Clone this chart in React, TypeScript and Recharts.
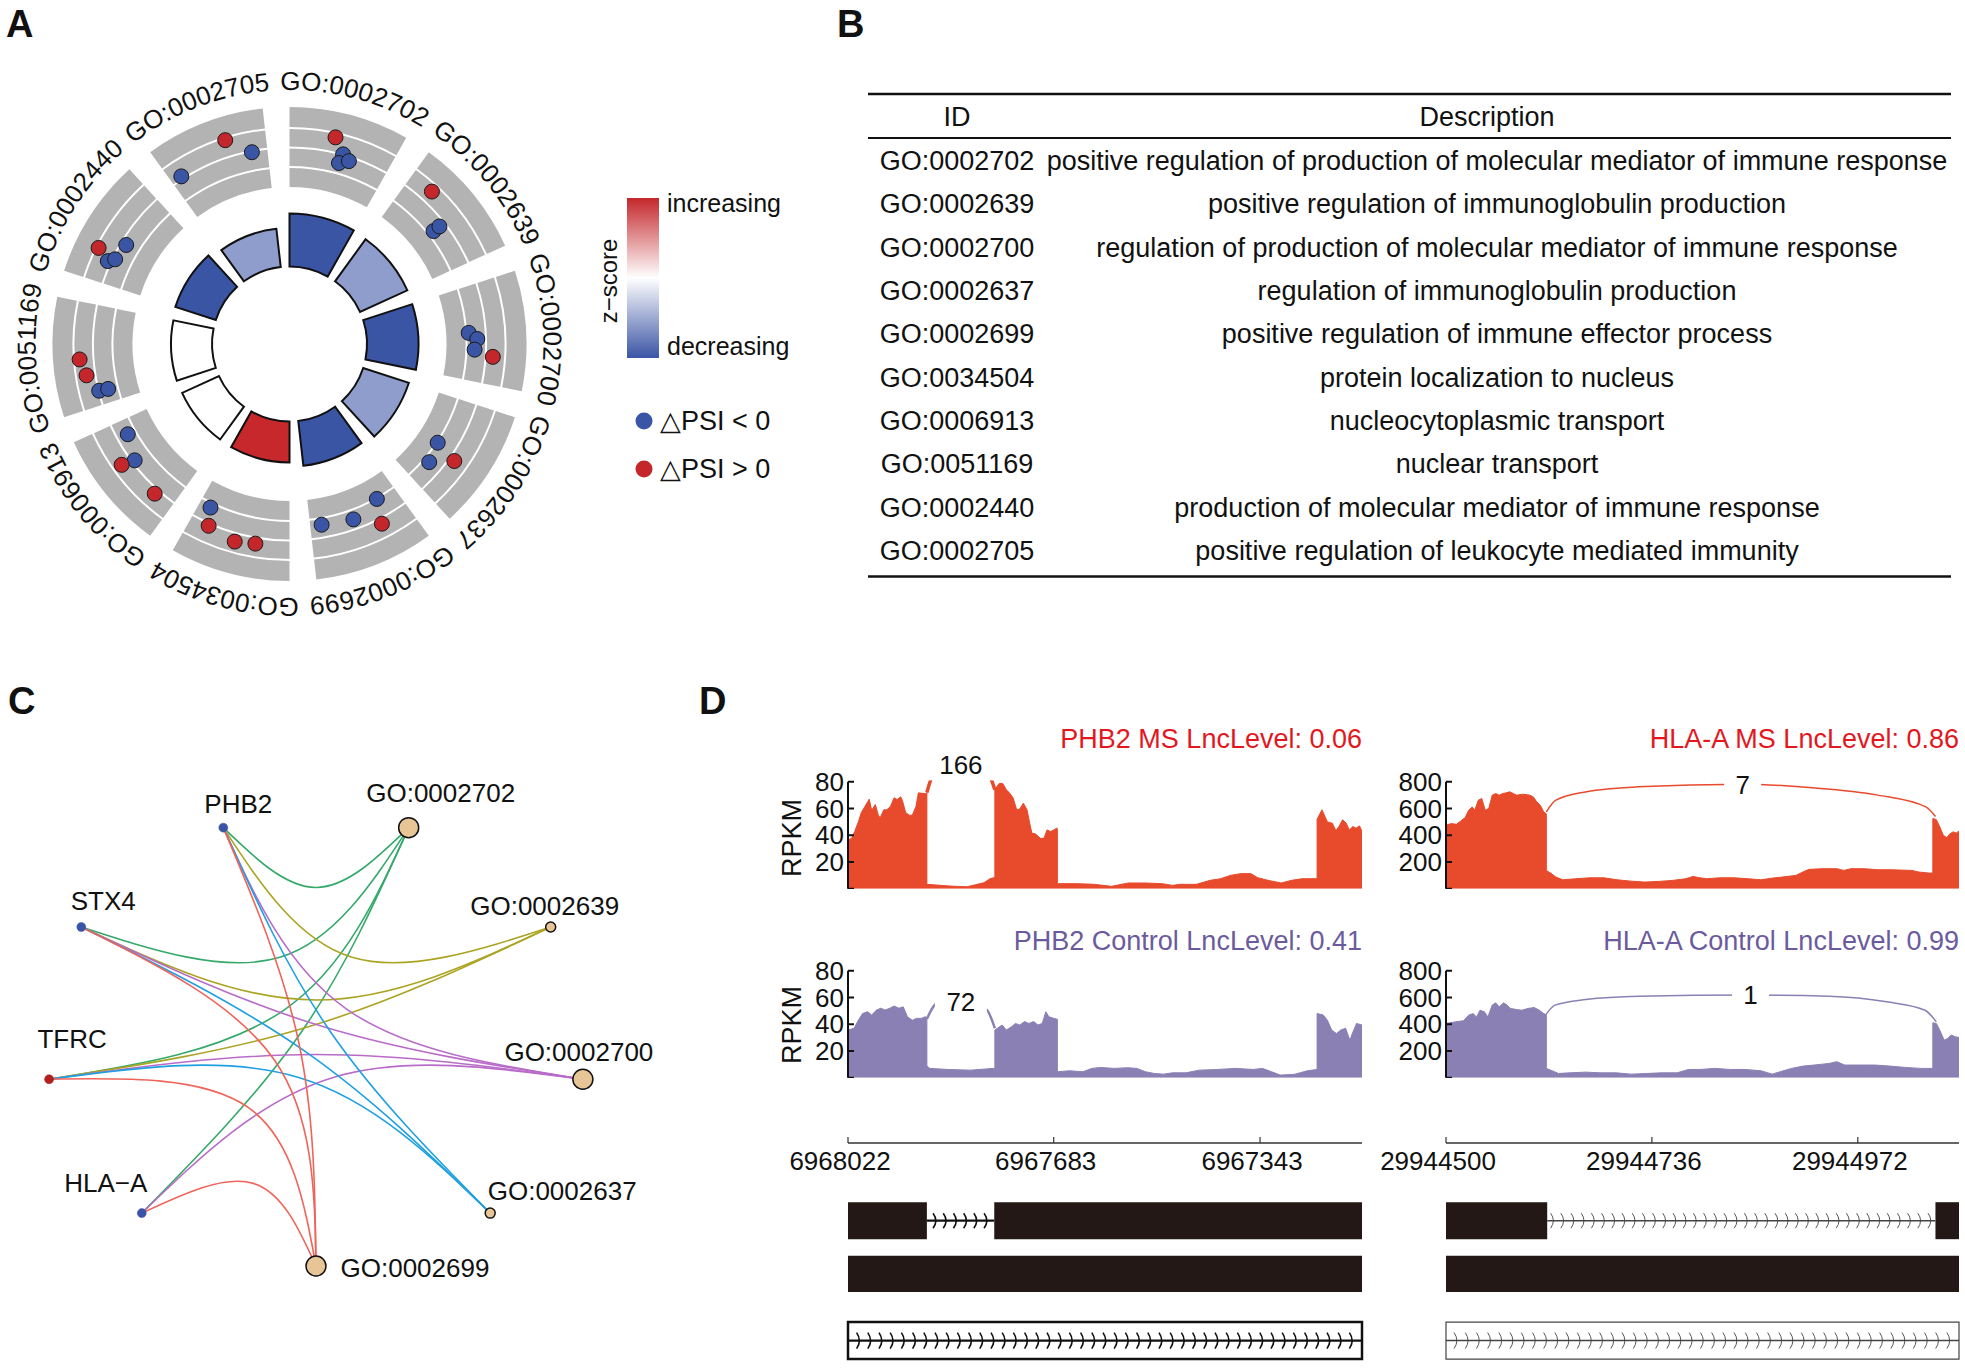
import React from 'react'
import { PieChart, Pie, Cell, ScatterChart, Scatter, XAxis, YAxis, ComposedChart, Line, Area, ReferenceLine, ReferenceArea, LabelList } from 'recharts'

const FONT = '"Liberation Sans", Arial, Helvetica, sans-serif'

// GO terms (panels A and B)
const goIds = ['GO:0002702', 'GO:0002639', 'GO:0002700', 'GO:0002637', 'GO:0002699', 'GO:0034504', 'GO:0006913', 'GO:0051169', 'GO:0002440', 'GO:0002705']
const goDesc = [
  'positive regulation of production of molecular mediator of immune response',
  'positive regulation of immunoglobulin production',
  'regulation of production of molecular mediator of immune response',
  'regulation of immunoglobulin production',
  'positive regulation of immune effector process',
  'protein localization to nucleus',
  'nucleocytoplasmic transport',
  'nuclear transport',
  'production of molecular mediator of immune response',
  'positive regulation of leukocyte mediated immunity',
]
const goZScore = [-1, -0.577, -1, -0.577, -1, 1, 0, 0, -1, -0.577]
const goNegLogP = [5.3, 5.2, 5.15, 4.8, 4.5, 4.1, 4.05, 4.1, 4.25, 3.85]

// genes on the outer ring: [term index, angle inside the term sector (deg), dPSI]
const ringGenes = [
  [0, 14.2, 0.11], [0, 17.6, -0.033], [0, 17.2, -0.128], [0, 19.9, -0.078],
  [1, 9, 0.115], [1, 18.1, -0.13], [1, 18, -0.055],
  [2, 16.1, -0.127], [2, 18, -0.042], [2, 21.2, -0.066], [2, 22.9, 0.121],
  [3, 16.1, -0.12], [3, 22.4, -0.07], [3, 17.7, 0.121],
  [4, 6, -0.123], [4, 15.1, -0.039], [4, 8.2, 0.118], [4, 24.7, -0.076],
  [5, 23.7, -0.129], [5, 22.1, 0.046], [5, 13.8, 0.116], [5, 8.1, 0.097],
  [6, 22.7, -0.136], [6, 15, -0.042], [6, 16.3, 0.088], [6, 4, 0.049],
  [7, 12.3, 0.089], [7, 7.6, 0.043], [7, 2.4, -0.046], [7, 2.2, -0.137],
  [8, 8.1, 0.1], [8, 12.7, -0.129], [8, 5.8, -0.039], [8, 7.2, -0.098],
  [9, 19.4, 0.105], [9, 26.1, -0.074], [9, 3.6, -0.044],
]

// network (panel C)
const netGenes = ['PHB2', 'STX4', 'TFRC', 'HLA-A']
const netGeneSign = [-1, -1, 1, -1]
const netTerms = ['GO:0002702', 'GO:0002639', 'GO:0002700', 'GO:0002637', 'GO:0002699']
const netTermGenes = [
  ['PHB2', 'STX4', 'TFRC', 'HLA-A'],
  ['PHB2', 'STX4', 'TFRC'],
  ['PHB2', 'STX4', 'TFRC', 'HLA-A'],
  ['PHB2', 'STX4', 'TFRC'],
  ['PHB2', 'STX4', 'TFRC', 'HLA-A'],
]
const netOrder = ['GO:0002699', 'HLA-A', 'TFRC', 'STX4', 'PHB2', 'GO:0002702', 'GO:0002639', 'GO:0002700', 'GO:0002637']

// sashimi coverage, [offset from left end (bp), RPKM]
const phb2Ms = [[0,36.5],[6,37.7],[11,42.8],[17,50],[22,57],[28,61.6],[35,67],[39,58.6],[45,63],[50,55],[53,53],[59,59],[64,59],[70,61.6],[76,68],[81,66.7],[87,68.7],[90,65.4],[95,57],[101,55],[106,55],[112,61.6],[116,71.7],[120,71.5],[128,71],[130,72],[130,3.3],[140,3],[168,2],[196,1.5],[210,3],[224,4.5],[234,7.5],[242,8.5],[242,74.2],[249,78.7],[255,78.7],[261,74],[266,71.7],[272,68],[278,59],[283,59.6],[289,64],[295,59],[300,47.8],[303,41.5],[309,41],[317,37.7],[323,37.7],[328,44],[334,42.8],[339,44],[344,45.3],[345,45],[345,3.8],[378,3.8],[406,3.3],[434,1.8],[462,4.3],[490,4.3],[518,3.8],[535,2.5],[546,3.3],[574,3.3],[597,6.3],[614,7.5],[630,10],[647,11.3],[664,11.3],[675,8.3],[692,6.3],[714,4.3],[731,6.3],[748,7.5],[773,7.5],[773,52],[781,59],[790,50],[798,49],[804,43.5],[809,46.5],[815,51.6],[821,49],[826,44],[832,46.5],[837,45.3],[843,47],[847,42.8]]
const phb2Ctl = [[0,35.7],[10,37],[17,43],[24,48],[32,49.4],[39,47],[47,50.6],[54,52],[61,50.6],[69,52],[76,53.6],[84,52],[91,53],[98,45.6],[106,43],[113,44.4],[121,44.4],[127,45.6],[130,45],[130,8.7],[135,7],[165,6.2],[202,5.7],[239,7],[242,7],[242,35.7],[254,39.4],[261,35.7],[269,38],[276,40.6],[283,39.4],[291,42],[298,40.6],[306,42],[313,39.4],[320,40.6],[326,49.4],[331,45.6],[339,44.4],[345,43.7],[345,4.5],[365,5.2],[387,4.5],[402,7],[416,7.7],[439,7],[461,7.5],[476,7],[490,4.5],[505,3.2],[520,2.7],[535,3.7],[557,3.7],[579,5.7],[609,6.2],[638,7],[668,6.2],[683,7],[698,4.5],[712,2],[735,2.5],[757,5.2],[773,6.2],[773,48],[783,47],[790,43],[797,35.7],[805,33],[812,35.7],[820,37],[827,28],[831,33],[838,40.6],[847,39.4]]
const hlaMs = [[0,475],[6,487],[12,482],[18,512],[22,532],[26,587],[30,612],[33,587],[37,662],[41,675],[45,587],[49,600],[53,700],[57,712],[61,700],[65,712],[69,717],[73,725],[77,712],[81,700],[88,707],[96,700],[100,687],[104,650],[108,625],[112,575],[115,560],[115,137],[120,117],[126,87],[134,67],[149,75],[165,82],[181,82],[196,67],[212,57],[228,50],[244,55],[259,62],[275,75],[283,92],[291,82],[299,75],[314,82],[330,82],[346,75],[361,67],[377,82],[385,87],[401,100],[409,125],[416,145],[432,150],[448,150],[456,137],[464,150],[479,150],[495,142],[511,142],[534,137],[542,125],[554,117],[558,117],[558,525],[562,517],[566,462],[570,400],[574,382],[577,407],[581,425],[585,417],[588,432]]
const hlaCtl = [[0,406],[11,418],[20,426],[26,468],[31,480],[35,455],[39,505],[44,493],[48,455],[53,543],[57,560],[61,530],[66,560],[70,543],[74,518],[81,510],[87,505],[94,518],[101,525],[107,505],[112,480],[115,470],[115,70],[120,57],[129,32],[142,37],[160,42],[177,37],[195,37],[212,27],[230,32],[247,37],[265,37],[278,62],[291,62],[308,70],[326,62],[343,62],[361,52],[374,27],[383,45],[396,70],[409,87],[422,95],[439,107],[448,120],[457,95],[474,95],[492,95],[509,87],[527,77],[544,70],[558,70],[558,411],[562,406],[566,356],[571,281],[575,294],[579,319],[584,306],[588,301]]

// junction arcs [offset, height] and read counts
const phb2MsArc = [[130,72],[143,87.5],[186,93],[229,87.5],[242,74]]
const phb2CtlArc = [[130,44],[148,56],[186,57],[228,51],[242,37]]
const hlaMsArc = [[115,575],[126,662],[161,725],[220,762],[340,782],[416,757],[495,700],[550,612],[561,540]]
const hlaCtlArc = [[114,468],[125,543],[160,585],[221,610],[349,618],[439,610],[505,568],[549,505],[562,418]]
const junctionReads = { phb2Ms: 166, phb2Ctl: 72, hlaMs: 7, hlaCtl: 1 }

// gene models, exons as [start, end] offsets
const phb2Start = 6968022
const phb2Span = 847
const phb2Exons = [[0, 130], [241, 847]]
const phb2Ticks = [6968022, 6967683, 6967343]
const hlaStart = 29944500
const hlaSpan = 588
const hlaExons = [[0, 116], [561, 588]]
const hlaTicks = [29944500, 29944736, 29944972]

// ---------- styling
const CX = 284.5
const CY = 339
const SECTOR = 36
const SPAN = 29.5
const BAR_BASE = 77.5
const RING_BANDS = [[157, 176], [178, 195.5], [197.5, 215], [217, 237]]
const BLUE = '#3B55A5'
const RED = '#C4272B'
const termColor = ['#35A96B', '#ABA422', '#B86CC8', '#1FA0E0', '#F0645A']
const MS_FILL = '#E84A2C'
const CTL_FILL = '#8B80B4'
const EXON = '#231815'

const ringR = (d) => 157 + ((d + 0.4) / 0.8) * 80

function zColor(z) {
  const t = Math.min(1, Math.abs(z))
  const end = z < 0 ? [59, 85, 165] : [198, 40, 44]
  const c = end.map((v) => Math.round(255 + (v - 255) * t))
  return `rgb(${c.join(',')})`
}

const goLabel = (p) => {
  const i = p.index
  const cx = p.cx ?? CX
  const cy = p.cy ?? CY
  const mid = 90 - i * SECTOR - SPAN / 2
  const R = 254
  const a1 = ((mid + 45) * Math.PI) / 180
  const a2 = ((mid - 45) * Math.PI) / 180
  const id = `goarc${i}`
  return (
    <g key={id}>
      <path id={id} d={`M${cx + R * Math.cos(a1)},${cy - R * Math.sin(a1)} A${R},${R} 0 0 1 ${cx + R * Math.cos(a2)},${cy - R * Math.sin(a2)}`} fill="none" />
      <text fontSize={26} fill="#111">
        <textPath href={`#${id}`} startOffset="50%" textAnchor="middle">{goIds[i]}</textPath>
      </text>
    </g>
  )
}

const ringDot = (p) => (
  <circle cx={p.cx} cy={p.cy} r={7.5} fill={p.payload.d < 0 ? BLUE : RED} stroke="#1a1a1a" strokeWidth={1} />
)

function PanelA() {
  const terms = goIds.map((id, i) => ({ id, one: 1, z: goZScore[i], sig: goNegLogP[i] }))
  const pts = ringGenes.map(([t, a, d]) => {
    const r = ringR(d)
    const th = ((t * SECTOR + a) * Math.PI) / 180
    return { x: r * Math.sin(th), y: r * Math.cos(th), d }
  })
  return (
    <>
      <div style={{ position: 'absolute', left: 0, top: 0 }}>
        <PieChart width={600} height={640}>
          {RING_BANDS.map(([ri, ro], k) => (
            <Pie key={k} data={terms} dataKey="one" cx={CX} cy={CY} innerRadius={ri} outerRadius={ro}
              startAngle={90} endAngle={-270} paddingAngle={SECTOR - SPAN} stroke="none"
              isAnimationActive={false} label={k === RING_BANDS.length - 1 ? goLabel : false} labelLine={false}>
              {terms.map((t) => <Cell key={t.id} fill="#B3B3B3" />)}
            </Pie>
          ))}
          {terms.map((t, i) => (
            <Pie key={t.id} data={[t]} dataKey="one" cx={CX} cy={CY} innerRadius={BAR_BASE} outerRadius={BAR_BASE + t.sig * 10}
              startAngle={90 - i * SECTOR} endAngle={90 - i * SECTOR - SPAN} stroke="#111" strokeWidth={2} isAnimationActive={false}>
              <Cell fill={zColor(t.z)} />
            </Pie>
          ))}
        </PieChart>
      </div>
      <div style={{ position: 'absolute', left: 0, top: 0 }}>
        <ScatterChart width={600} height={640} margin={{ top: 0, right: 0, bottom: 0, left: 0 }}>
          <XAxis type="number" dataKey="x" domain={[-CX, 600 - CX]} hide allowDataOverflow />
          <YAxis type="number" dataKey="y" domain={[CY - 640, CY]} hide allowDataOverflow />
          <Scatter data={pts} shape={ringDot} isAnimationActive={false} />
        </ScatterChart>
      </div>
    </>
  )
}

const netLabelNudge = {
  PHB2: [15, -24], 'GO:0002702': [32, -35], STX4: [22, -26], 'GO:0002639': [-6, -21], TFRC: [23, -40],
  'GO:0002700': [-4, -27], 'HLA-A': [-36, -30], 'GO:0002637': [72, -22], 'GO:0002699': [99, 2],
}

const netNode = (p) => {
  const { cx, cy, payload } = p
  const [dx, dy] = netLabelNudge[payload.name]
  const isTerm = payload.kind === 'term'
  const r = isTerm ? (payload.count >= 4 ? 10 : 5) : 4.5
  const fill = isTerm ? '#E8C596' : payload.sign > 0 ? '#B0201E' : '#3A53A4'
  return (
    <g>
      <circle cx={cx} cy={cy} r={r} fill={fill} stroke={isTerm ? '#111' : fill} strokeWidth={isTerm ? 1.5 : 0.5} />
      <text x={cx + dx} y={cy + dy} textAnchor="middle" dominantBaseline="central" fontSize={26} fill="#111">
        {payload.name.replace('-', '\u2212')}
      </text>
    </g>
  )
}

function PanelC() {
  const ang = (name) => netOrder.indexOf(name) * 40
  const pos = (name) => {
    const a = (ang(name) * Math.PI) / 180
    return { x: -Math.sin(a), y: -Math.cos(a) }
  }
  const edges = []
  netTerms.forEach((t, ti) => {
    netTermGenes[ti].forEach((g) => {
      const a1 = ang(t)
      const d = ((ang(g) - a1 + 540) % 360) - 180
      const am = ((a1 + d / 2) * Math.PI) / 180
      const rm = 1 - 0.95 * Math.sin((Math.abs(d) * Math.PI) / 360)
      edges.push({ key: t + g, color: termColor[ti], pts: [pos(t), { x: -rm * Math.sin(am), y: -rm * Math.cos(am) }, pos(g)] })
    })
  })
  const nodes = netOrder.map((name) => {
    const ti = netTerms.indexOf(name)
    const gi = netGenes.indexOf(name)
    return { name, ...pos(name), kind: ti >= 0 ? 'term' : 'gene', count: ti >= 0 ? netTermGenes[ti].length : 0, sign: gi >= 0 ? netGeneSign[gi] : 0 }
  })
  return (
    <div style={{ position: 'absolute', left: 0, top: 690 }}>
      <ComposedChart width={660} height={640} margin={{ top: 0, right: 0, bottom: 0, left: 0 }}>
        <XAxis type="number" dataKey="x" domain={[-1.166, 1.2694]} hide allowDataOverflow />
        <YAxis type="number" dataKey="y" domain={[-1.2832, 1.5487]} hide allowDataOverflow />
        {edges.map((e) => (
          <Line key={e.key} data={e.pts} dataKey="y" type="natural" stroke={e.color} strokeWidth={1.6} dot={false} isAnimationActive={false} />
        ))}
        <Scatter data={nodes} dataKey="y" shape={netNode} isAnimationActive={false} />
      </ComposedChart>
    </div>
  )
}

const ArcLabel = (p) => {
  if (p.value === undefined || p.value === null || p.value === '') return null
  const s = String(p.value)
  const w = s.length * 15 + 22
  return (
    <g>
      <rect x={p.x - w / 2} y={p.y - 16} width={w} height={32} fill="#fff" />
      <text x={p.x} y={p.y} dy="0.36em" textAnchor="middle" fontSize={26} fill="#111">{s}</text>
    </g>
  )
}

function Coverage({ axisX, plotTop, plotW, yMax, ticks, domain, reversed, toG, cov, arc, reads, color, arcColor, arcWidth, edgeG }) {
  const plotH = 133.75
  const data = cov.map(([o, v]) => ({ g: toG(o), v }))
  const mid = Math.floor(arc.length / 2)
  const arcData = arc.map(([o, v], i) => ({ g: toG(o), v, label: i === mid ? reads : undefined }))
  return (
    <div style={{ position: 'absolute', left: axisX - 60, top: plotTop - 20 }}>
      <ComposedChart width={plotW + 60} height={plotH + 20} margin={{ top: 20, right: 0, bottom: 0, left: 0 }}>
        <XAxis type="number" dataKey="g" domain={domain} reversed={reversed} hide allowDataOverflow />
        <YAxis type="number" domain={[0, yMax]} ticks={ticks} interval={0} width={60} allowDataOverflow axisLine={false}
          tickSize={-6} tickMargin={10} tickLine={{ stroke: '#111', strokeWidth: 2 }}
          tick={{ fontSize: 26, fill: '#111' }} tickFormatter={(v) => (v === 0 ? '' : String(v))} />
        <Area data={data} dataKey="v" type="linear" fill={color} fillOpacity={1} stroke={color} strokeWidth={1} isAnimationActive={false} />
        <Line data={arcData} dataKey="v" type="monotone" stroke={arcColor} strokeWidth={arcWidth} dot={false} isAnimationActive={false}>
          <LabelList dataKey="label" content={ArcLabel} />
        </Line>
        <ReferenceLine segment={[{ x: edgeG, y: 0 }, { x: edgeG, y: ticks[ticks.length - 1] }]} stroke="#111" strokeWidth={2} ifOverflow="visible" />
      </ComposedChart>
    </div>
  )
}

const intronShape = (spacing, h, sw, color) => (p) => {
  const { x1, y1, x2, y2 } = p
  const lo = Math.min(x1, x2)
  const hi = Math.max(x1, x2)
  const n = Math.floor((hi - lo) / spacing)
  const start = lo + (hi - lo - (n - 1) * spacing) / 2
  const marks = []
  for (let k = 0; k < n; k++) {
    const x = start + k * spacing
    marks.push(<path key={k} d={`M${x - 2},${y1 - h} Q${x + 3.5},${y1} ${x - 2},${y1 + h}`} fill="none" stroke={color} strokeWidth={sw} />)
  }
  return (
    <g>
      <line x1={x1} y1={y1} x2={x2} y2={y2} stroke={color} strokeWidth={sw + 0.6} />
      {marks}
    </g>
  )
}

function GeneModel({ axisX, plotW, domain, reversed, ticks, toG, exons, span, heavy }) {
  const ink = heavy ? '#111' : '#444'
  const sw = heavy ? 1.6 : 0.9
  const introns = exons.slice(1).map((e, i) => [exons[i][1], e[0]])
  const frame = [{ g: toG(0), r: 0 }, { g: toG(span), r: 0 }]
  return (
    <div style={{ position: 'absolute', left: axisX - 90, top: 1113 }}>
      <ComposedChart width={plotW + 180} height={252} margin={{ top: 0, right: 90, bottom: 0, left: 90 }}>
        <XAxis type="number" dataKey="g" orientation="top" height={30} domain={domain} reversed={reversed} ticks={ticks} interval={0}
          allowDataOverflow tickSize={6} tickMargin={-33} axisLine={{ stroke: '#333', strokeWidth: 1.5 }}
          tickLine={{ stroke: '#333', strokeWidth: 1.2 }} tick={{ fontSize: 26, fill: '#111', dx: -8 }} />
        <YAxis type="number" dataKey="r" hide domain={[0, 6]} reversed allowDataOverflow />
        <Line data={frame} dataKey="r" stroke="none" dot={false} isAnimationActive={false} />
        {exons.map(([s, e]) => (
          <ReferenceArea key={s} x1={toG(s)} x2={toG(e)} y1={1.6} y2={2.6} fill={EXON} fillOpacity={1} stroke="none" ifOverflow="visible" />
        ))}
        {introns.map(([s, e]) => (
          <ReferenceLine key={`i${s}`} segment={[{ x: toG(s), y: 2.1 }, { x: toG(e), y: 2.1 }]} ifOverflow="visible" shape={intronShape(10.2, 7.5, sw, ink)} />
        ))}
        <ReferenceArea x1={toG(0)} x2={toG(span)} y1={3.05} y2={4.03} fill={EXON} fillOpacity={1} stroke="none" ifOverflow="visible" />
        <ReferenceArea x1={toG(0)} x2={toG(span)} y1={4.84} y2={5.84} fill="#fff" fillOpacity={1} stroke={ink} strokeWidth={heavy ? 2.5 : 1.2} ifOverflow="visible" />
        <ReferenceLine segment={[{ x: toG(0), y: 5.34 }, { x: toG(span), y: 5.34 }]} ifOverflow="visible" shape={intronShape(11.2, 8, sw, ink)} />
      </ComposedChart>
    </div>
  )
}

function PanelD() {
  const phb2G = (o) => phb2Start - o
  const hlaG = (o) => hlaStart + o
  const phb2Dom = [phb2Start - phb2Span, phb2Start]
  const hlaDom = [hlaStart, hlaStart + hlaSpan]
  const pTicks = [0, 20, 40, 60, 80]
  const hTicks = [0, 200, 400, 600, 800]
  return (
    <>
      <Coverage axisX={848} plotTop={755.25} plotW={514} yMax={100} ticks={pTicks} domain={phb2Dom} reversed toG={phb2G} cov={phb2Ms}
        arc={phb2MsArc} reads={junctionReads.phb2Ms} color={MS_FILL} arcColor={MS_FILL} arcWidth={3.5} edgeG={phb2Start} />
      <Coverage axisX={848} plotTop={944.25} plotW={514} yMax={100} ticks={pTicks} domain={phb2Dom} reversed toG={phb2G} cov={phb2Ctl}
        arc={phb2CtlArc} reads={junctionReads.phb2Ctl} color={CTL_FILL} arcColor={CTL_FILL} arcWidth={2.5} edgeG={phb2Start} />
      <Coverage axisX={1446} plotTop={755.25} plotW={513} yMax={1000} ticks={hTicks} domain={hlaDom} reversed={false} toG={hlaG} cov={hlaMs}
        arc={hlaMsArc} reads={junctionReads.hlaMs} color={MS_FILL} arcColor={MS_FILL} arcWidth={1.5} edgeG={hlaStart} />
      <Coverage axisX={1446} plotTop={944.25} plotW={513} yMax={1000} ticks={hTicks} domain={hlaDom} reversed={false} toG={hlaG} cov={hlaCtl}
        arc={hlaCtlArc} reads={junctionReads.hlaCtl} color={CTL_FILL} arcColor={CTL_FILL} arcWidth={1.5} edgeG={hlaStart} />
      <GeneModel axisX={848} plotW={514} domain={phb2Dom} reversed ticks={phb2Ticks} toG={phb2G} exons={phb2Exons} span={phb2Span} heavy />
      <GeneModel axisX={1446} plotW={513} domain={hlaDom} reversed={false} ticks={hlaTicks} toG={hlaG} exons={hlaExons} span={hlaSpan} heavy={false} />
    </>
  )
}

function Overlay() {
  const rowY = (k) => 160.4 + k * 43.31 + 9.7
  return (
    <svg width={1965} height={1368} style={{ position: 'absolute', left: 0, top: 0, pointerEvents: 'none' }}>
      <defs>
        <linearGradient id="zbar" x1="0" y1="0" x2="0" y2="1">
          <stop offset="0" stopColor={RED} />
          <stop offset="0.5" stopColor="#ffffff" />
          <stop offset="1" stopColor={BLUE} />
        </linearGradient>
      </defs>
      <g fontWeight="bold" fontSize={38} fill="#111">
        <text x={6} y={37}>A</text>
        <text x={837} y={37}>B</text>
        <text x={8} y={714}>C</text>
        <text x={699} y={714}>D</text>
      </g>

      <rect x={627} y={198} width={32} height={160} fill="url(#zbar)" />
      <text x={667} y={212} fontSize={25} fill="#111">increasing</text>
      <text x={667} y={355} fontSize={25} fill="#111">decreasing</text>
      <text transform="translate(608,281) rotate(-90)" textAnchor="middle" dominantBaseline="central" fontSize={24} fill="#111">z{'\u2212'}score</text>
      <circle cx={644} cy={421} r={8.5} fill={BLUE} />
      <circle cx={644} cy={469} r={8.5} fill={RED} />
      <text x={660} y={430} fontSize={27} fill="#111">{'\u25B3'}PSI {'<'} 0</text>
      <text x={660} y={478} fontSize={27} fill="#111">{'\u25B3'}PSI {'>'} 0</text>

      <line x1={868} x2={1951} y1={94} y2={94} stroke="#111" strokeWidth={2.5} />
      <line x1={868} x2={1951} y1={138} y2={138} stroke="#111" strokeWidth={2} />
      <line x1={868} x2={1951} y1={576.5} y2={576.5} stroke="#111" strokeWidth={2.5} />
      <g fontSize={27} fill="#111" textAnchor="middle">
        <text x={957} y={126.2}>ID</text>
        <text x={1487} y={126.2}>Description</text>
        {goIds.map((id, k) => (
          <text key={id} x={957} y={rowY(k)}>{id}</text>
        ))}
        {goDesc.map((d, k) => (
          <text key={d} x={1497} y={rowY(k)}>{d}</text>
        ))}
      </g>

      <text transform="translate(792,838) rotate(-90)" textAnchor="middle" dominantBaseline="central" fontSize={27} fill="#111">RPKM</text>
      <text transform="translate(792,1025) rotate(-90)" textAnchor="middle" dominantBaseline="central" fontSize={27} fill="#111">RPKM</text>
      <g fontSize={27} textAnchor="end">
        <text x={1362} y={748} fill="#E3181F">PHB2 MS LncLevel: 0.06</text>
        <text x={1362} y={950} fill="#6B5B9E">PHB2 Control LncLevel: 0.41</text>
        <text x={1959} y={748} fill="#E3181F">HLA-A MS LncLevel: 0.86</text>
        <text x={1959} y={950} fill="#6B5B9E">HLA-A Control LncLevel: 0.99</text>
      </g>
    </svg>
  )
}

export default function App() {
  return (
    <div style={{ position: 'absolute', left: 0, top: 0, width: 1965, height: 1368, background: '#fff', fontFamily: FONT, overflow: 'hidden' }}>
      <PanelA />
      <PanelC />
      <PanelD />
      <Overlay />
    </div>
  )
}
